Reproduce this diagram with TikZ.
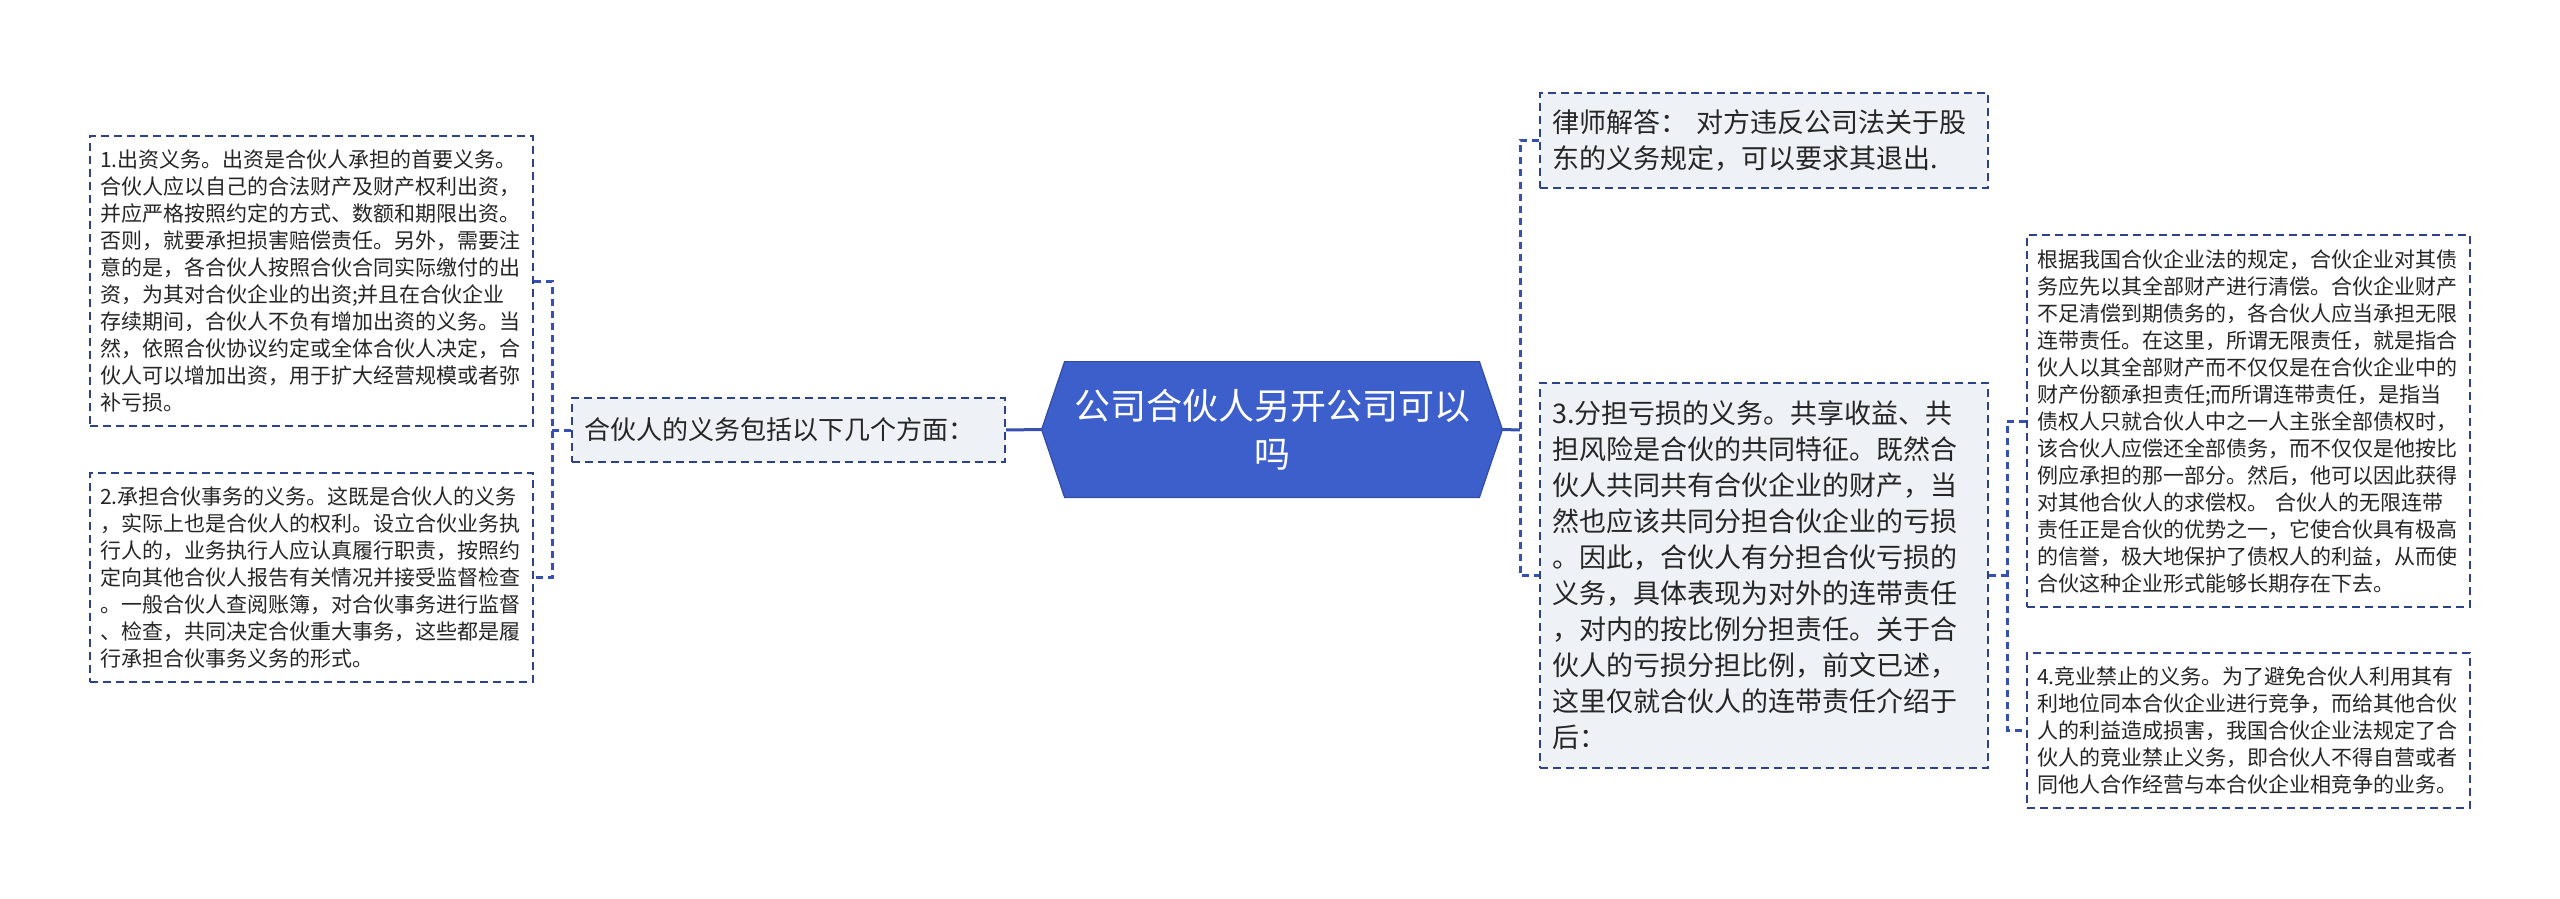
\documentclass[tikz,border=0pt]{standalone}
\usepackage{fontspec}
\setmainfont{Noto Sans CJK SC}
\usepackage{xcolor}
\usepackage{tikz}
\usetikzlibrary{backgrounds}
\definecolor{topicblue}{HTML}{3D5FCB}
\definecolor{edgenavy}{HTML}{2C4389}
\definecolor{linkblue}{HTML}{3550B0}
\definecolor{boxgray}{HTML}{EEF1F5}

\begin{document}
\begin{tikzpicture}[x=0.5pt, y=-0.5pt,
  topic/.style={text=white, font=\fontsize{18}{24}\selectfont, align=center,
    minimum width=230pt, minimum height=67.5pt, inner sep=0pt},
  sub/.style={draw=edgenavy, line width=1pt, dash pattern=on 4pt off 2.5pt, fill=boxgray,
    text=black!85, font=\fontsize{13.5}{18}\selectfont, align=left, inner xsep=6pt},
  leaf/.style={draw=edgenavy, line width=1pt, dash pattern=on 4pt off 2.5pt, fill=white,
    text=black!85, font=\fontsize{10.5}{13.5}\selectfont, align=left, inner xsep=5pt,
    text width=211.5pt},
  main/.style={linkblue, line width=1.5pt},
  link/.style={linkblue, line width=1.5pt, dash pattern=on 3.5pt off 2.5pt},
]
\useasboundingbox (0,0) rectangle (2560,899);
% centre
\node[topic] (topic) at (1272,429.5) {公司合伙人另开公司可以\\吗};
\begin{scope}[on background layer]
\filldraw[fill=topicblue, draw=topicblue!80!black, line width=0.6pt]
  (topic.west) -- ([xshift=11.5pt]topic.north west) -- ([xshift=-11.5pt]topic.north east)
  -- (topic.east) -- ([xshift=-11.5pt]topic.south east) -- ([xshift=11.5pt]topic.south west) -- cycle;
\end{scope}
% left branch
\node[sub, font=\fontsize{13}{18}\selectfont, text width=204.5pt, minimum height=32pt] (duties) at (788.5,430) {合伙人的义务包括以下几个方面：};
\node[leaf, minimum height=145pt] (duty1) at (311.5,281) {1.出资义务。出资是合伙人承担的首要义务。\\合伙人应以自己的合法财产及财产权利出资，\\并应严格按照约定的方式、数额和期限出资。\\否则，就要承担损害赔偿责任。另外，需要注\\意的是，各合伙人按照合伙合同实际缴付的出\\资，为其对合伙企业的出资;并且在合伙企业\\存续期间，合伙人不负有增加出资的义务。当\\然，依照合伙协议约定或全体合伙人决定，合\\伙人可以增加出资，用于扩大经营规模或者弥\\补亏损。};
\node[leaf, minimum height=104.5pt] (duty2) at (311.5,577.5) {2.承担合伙事务的义务。这既是合伙人的义务\\，实际上也是合伙人的权利。设立合伙业务执\\行人的，业务执行人应认真履行职责，按照约\\定向其他合伙人报告有关情况并接受监督检查\\。一般合伙人查阅账簿，对合伙事务进行监督\\、检查，共同决定合伙重大事务，这些都是履\\行承担合伙事务义务的形式。};
% right branch
\node[sub, text width=212pt, minimum height=47.5pt] (answer) at (1764,140.5) {律师解答： 对方违反公司法关于股\\东的义务规定，可以要求其退出.};
\node[sub, text width=212pt, minimum height=192.5pt] (duty3) at (1764,575.5) {3.分担亏损的义务。共享收益、共\\担风险是合伙的共同特征。既然合\\伙人共同共有合伙企业的财产，当\\然也应该共同分担合伙企业的亏损\\。因此，合伙人有分担合伙亏损的\\义务，具体表现为对外的连带责任\\，对内的按比例分担责任。关于合\\伙人的亏损分担比例，前文已述，\\这里仅就合伙人的连带责任介绍于\\后：};
\node[leaf, minimum height=186pt] (debt) at (2248.5,421) {根据我国合伙企业法的规定，合伙企业对其债\\务应先以其全部财产进行清偿。合伙企业财产\\不足清偿到期债务的，各合伙人应当承担无限\\连带责任。在这里，所谓无限责任，就是指合\\伙人以其全部财产而不仅仅是在合伙企业中的\\财产份额承担责任;而所谓连带责任，是指当\\债权人只就合伙人中之一人主张全部债权时，\\该合伙人应偿还全部债务，而不仅仅是他按比\\例应承担的那一部分。然后，他可以因此获得\\对其他合伙人的求偿权。 合伙人的无限连带\\责任正是合伙的优势之一，它使合伙具有极高\\的信誉，极大地保护了债权人的利益，从而使\\合伙这种企业形式能够长期存在下去。};
\node[leaf, minimum height=77.5pt] (compete) at (2248.5,730.5) {4.竞业禁止的义务。为了避免合伙人利用其有\\利地位同本合伙企业进行竞争，而给其他合伙\\人的利益造成损害，我国合伙企业法规定了合\\伙人的竞业禁止义务，即合伙人不得自营或者\\同他人合作经营与本合伙企业相竞争的业务。};
% connectors
\coordinate (lhub) at (552,430);
\coordinate (rhub) at (1520,430);
\coordinate (dhub) at (2007,575.5);
\draw[main] (topic.west) -- (duties.east);
\draw[main] (topic.east) -- (rhub);
\draw[link] (answer.west) -| (rhub) |- (duty3.west);
\draw[link] (duties.west) -- (lhub);
\draw[link] (duty1.east) -| (lhub) |- (duty2.east);
\draw[link] (duty3.east) -- (dhub);
\draw[link] (debt.west) -| (dhub) |- (compete.west);
\end{tikzpicture}
\end{document}
